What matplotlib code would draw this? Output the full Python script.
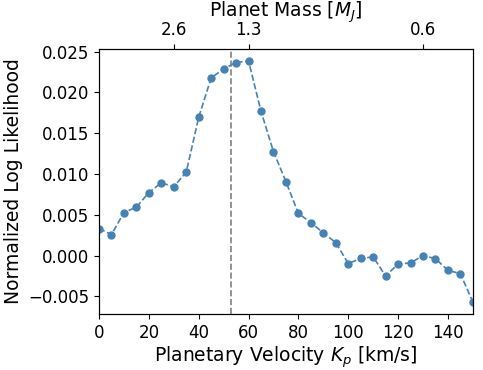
import numpy as np
import matplotlib
matplotlib.use("Agg")
import matplotlib.pyplot as plt

# planetary velocity grid (km/s) and normalized log likelihood
kp = [0, 5, 10, 15, 20, 25, 30, 35, 40, 45, 50, 55, 60, 65, 70, 75,
      80, 85, 90, 95, 100, 105, 110, 115, 120, 125, 130, 135, 140, 145, 150]
loglike = [0.00331, 0.00258, 0.00528, 0.00593, 0.00773, 0.00892, 0.00843,
           0.01023, 0.01694, 0.02177, 0.02287, 0.02365, 0.02385, 0.01768,
           0.01273, 0.00906, 0.00516, 0.00405, 0.00278, 0.00160, -0.00098,
           -0.00033, -0.00016, -0.00250, -0.00102, -0.00090, 0.00000,
           -0.00037, -0.00180, -0.00221, -0.00569]

kp_best = 53
kp_ticks = [0, 20, 40, 60, 80, 100, 120, 140]

# top axis: mass labels at given Kp positions
mass_pos = [30, 60, 130]
mass_labels = ['2.6', '1.3', '0.6']

fig = plt.figure(figsize=(4.83, 3.70), dpi=100)
ax = fig.add_axes([0.205, 0.151, 0.774, 0.717])

ax.plot(kp, loglike, 'o--', color='steelblue', markersize=5, linewidth=1.2)
ax.axvline(kp_best, color='gray', linestyle='--', linewidth=1.2)
ax.set_xlim(0, 150)
ax.set_xticks(kp_ticks)

ax.set_xlabel('Planetary Velocity $K_p$ [km/s]', fontsize=13.5, labelpad=2)
ax.set_ylabel('Normalized Log Likelihood', fontsize=13.5)
ax.tick_params(labelsize=12)

ax2 = ax.twiny()
ax2.set_xlim(ax.get_xlim())
ax2.set_xticks(mass_pos)
ax2.set_xticklabels(mass_labels)
ax2.tick_params(labelsize=12)
ax2.set_xlabel('Planet Mass [$M_J$]', fontsize=13.5, labelpad=3)

fig.savefig('out.png', dpi=100)
